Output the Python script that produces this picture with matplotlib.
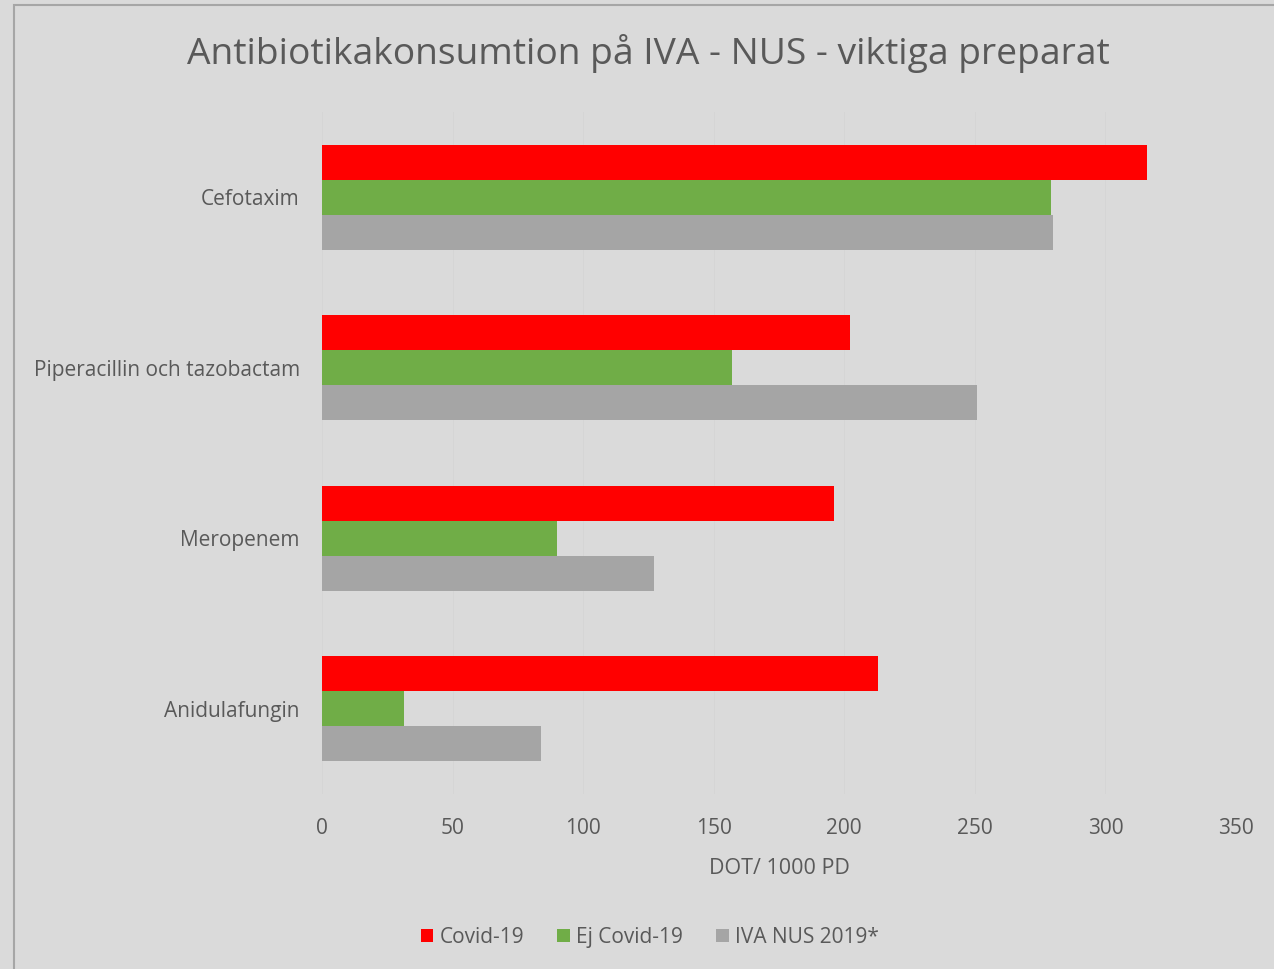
import numpy as np
import matplotlib
matplotlib.use("Agg")
from matplotlib import pyplot as plt
from matplotlib.patches import Rectangle

categories = ['Cefotaxim', 'Piperacillin och tazobactam', 'Meropenem', 'Anidulafungin']
covid = [316, 202, 196, 213]
ej_covid = [279, 157, 90, 31.5]
iva_2019 = [280, 251, 127, 84]
series_names = ['Covid-19', 'Ej Covid-19', 'IVA NUS 2019*']
series_colors = ['#FF0000', '#70AD47', '#A5A5A5']
xticks = [0, 50, 100, 150, 200, 250, 300, 350]

plt.rcParams['font.family'] = ['Open Sans', 'DejaVu Sans']
bg = '#DADADA'
txt = '#595959'

fig = plt.figure(figsize=(12.74, 9.69), dpi=100, facecolor=bg)
ax = fig.add_axes([0.2527, 0.1806, 0.7175, 0.7038], facecolor=bg)

# outer chart border (cut off at right/bottom in the reference)
fig.patches.append(Rectangle((14 / 1274, -0.1), 1.2, 1 - 5 / 969 + 0.1,
                             transform=fig.transFigure, fill=False,
                             edgecolor='#A6A6A6', linewidth=1.5))

n = len(categories)
y = np.arange(n)
h = 0.205
for i, (vals, name, col) in enumerate(zip([covid, ej_covid, iva_2019], series_names, series_colors)):
    ax.barh(y + (i - 1) * h, vals, height=h, color=col, label=name, zorder=3)

ax.set_ylim(n - 0.5, -0.5)
ax.set_xlim(0, 350)
ax.set_yticks(y)
ax.set_yticklabels(categories, fontsize=15, color=txt)
ax.set_xticks(xticks)
ax.set_xticklabels([str(t) for t in xticks], fontsize=15, color=txt)
ax.tick_params(axis='y', length=0, pad=16)
ax.tick_params(axis='x', length=0, pad=17)
ax.grid(axis='x', color='#D5D5D5', linewidth=0.7, zorder=0)
for s in ax.spines.values():
    s.set_visible(False)

ax.set_xlabel('DOT/ 1000 PD', fontsize=15.5, color=txt, labelpad=14)
fig.text(0.509, 0.945, 'Antibiotikakonsumtion på IVA - NUS - viktiga preparat',
         ha='center', va='center', fontsize=26.8, color=txt)

leg = fig.legend(loc='center', bbox_to_anchor=(0.51, 0.033), ncol=3, frameon=False,
                 fontsize=15, handlelength=0.6, handleheight=0.6, handletextpad=0.3,
                 columnspacing=1.6)
for t in leg.get_texts():
    t.set_color(txt)

fig.savefig('out.png', dpi=100, facecolor=bg)
